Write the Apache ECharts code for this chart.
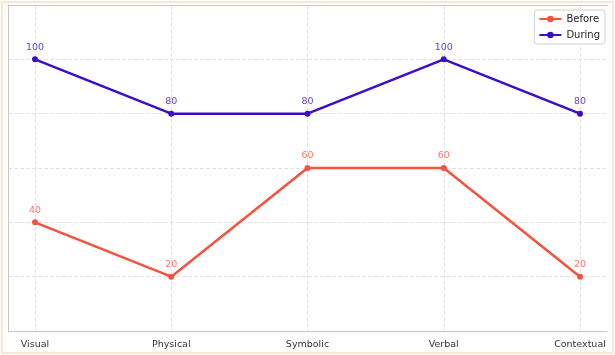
<!DOCTYPE html>
<html><head><meta charset="utf-8">
<script src="https://cdn.jsdelivr.net/npm/echarts@6/dist/echarts.min.js"></script>
<style>
html,body{margin:0;padding:0;background:#fff;}
#c{position:absolute;left:0;top:0;width:615px;height:355px;}
#b{position:absolute;left:1px;top:1px;width:609px;height:349px;border:2px solid #fde6d2;pointer-events:none;}
</style></head>
<body><div id="c"></div><div id="b"></div>
<script>
const categories = ['Visual','Physical','Symbolic','Verbal','Contextual'];
const beforeValues = [40,20,60,60,20];
const duringValues = [100,80,80,100,80];
const yTicks = [0,20,40,60,80,100,120];

const chart = echarts.init(document.getElementById('c'));
const font = 'DejaVu Sans';
const labelStyle = (color) => ({show:true, position:'top', distance:4, color:color, fontFamily:font, fontSize:9.5});
chart.setOption({
  animation:false,
  textStyle:{fontFamily:font},
  legend:{
    right:10, top:10, orient:'vertical', itemGap:6, itemWidth:22, itemHeight:8,
    borderColor:'#d0d0d0', borderWidth:1, borderRadius:3, padding:[4,5,4,4],
    backgroundColor:'#fff',
    textStyle:{fontFamily:font, fontSize:10, color:'#222'},
    data:['Before','During']
  },
  grid:[
    {left:8, right:8, top:5, bottom:24, show:false},
    {left:35, right:35, top:5, bottom:24, show:false}
  ],
  xAxis:[
    {gridIndex:0, type:'value', min:0, max:1, position:'bottom',
     axisLine:{show:true, onZero:false, lineStyle:{color:'#c8c8c8'}}, axisTick:{show:false}, axisLabel:{show:false}, splitLine:{show:false}},
    {gridIndex:0, type:'value', min:0, max:1, position:'top',
     axisLine:{show:true, onZero:false, lineStyle:{color:'#c8c8c8'}}, axisTick:{show:false}, axisLabel:{show:false}, splitLine:{show:false}},
    {gridIndex:1, type:'category', data:categories, boundaryGap:false,
     axisLine:{show:false}, axisTick:{show:false},
     axisLabel:{color:'#333', fontFamily:font, fontSize:9.5, margin:9},
     splitLine:{show:true, lineStyle:{color:'#e2e2e2', type:'dashed'}}}
  ],
  yAxis:[
    {gridIndex:0, type:'value', min:0, max:120, interval:20, position:'left',
     axisLine:{show:true, lineStyle:{color:'#c8c8c8'}}, axisTick:{show:false}, axisLabel:{show:false},
     splitLine:{show:true, lineStyle:{color:'#e2e2e2', type:'dashed'}}},
    {gridIndex:0, type:'value', min:0, max:120, interval:20, position:'right',
     axisLine:{show:true, lineStyle:{color:'#c8c8c8'}}, axisTick:{show:false}, axisLabel:{show:false}, splitLine:{show:false}},
    {gridIndex:1, type:'value', min:yTicks[0], max:yTicks[yTicks.length-1], interval:20, show:false, splitLine:{show:false}}
  ],
  series:[
    {name:'Before', type:'line', xAxisIndex:2, yAxisIndex:2, data:beforeValues,
     color:'#F5523F', symbol:'circle', symbolSize:6, lineStyle:{width:2.5},
     label:labelStyle('#F77866')},
    {name:'During', type:'line', xAxisIndex:2, yAxisIndex:2, data:duringValues,
     color:'#3D0DC8', symbol:'circle', symbolSize:6, lineStyle:{width:2.5},
     label:labelStyle('#6444D2')}
  ]
});
</script></body></html>
